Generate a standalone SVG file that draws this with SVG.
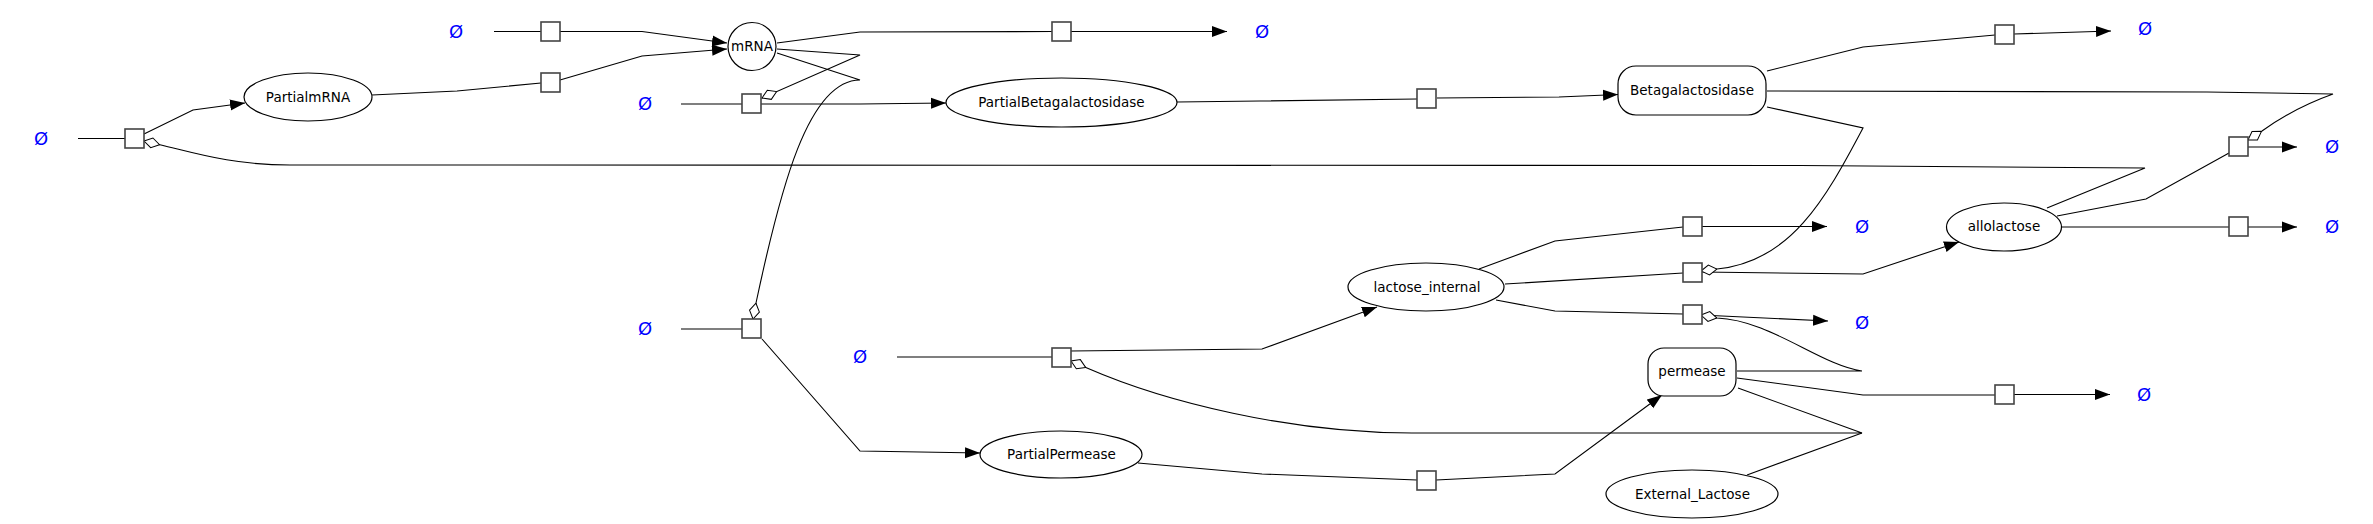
<svg xmlns="http://www.w3.org/2000/svg" width="2373" height="524" viewBox="0 0 2373 524">
<defs>
<marker id="arrow" markerUnits="userSpaceOnUse" markerWidth="16" markerHeight="12" refX="15" refY="6" orient="auto" viewBox="0 0 16 12"><path d="M0,0.5 L15,6 L0,11.5 Z" fill="#000"/></marker>
<marker id="diamond" markerUnits="userSpaceOnUse" markerWidth="18" markerHeight="12" refX="16.5" refY="6" orient="auto" viewBox="0 0 18 12"><path d="M0.5,6 L8.5,1 L16.5,6 L8.5,11 Z" fill="#fff" stroke="#000" stroke-width="1"/></marker>
</defs>
<style>
.e{fill:none;stroke:#000;stroke-width:1.1}
.a{marker-end:url(#arrow)}
.m{marker-end:url(#diamond)}
.sp{fill:#fff;stroke:#000;stroke-width:1.2}
.rx{fill:#fff;stroke:#444;stroke-width:1.6}
.lbl{font-family:"DejaVu Sans",sans-serif;font-size:13.5px;fill:#000;text-anchor:middle;dominant-baseline:central}
.empty{font-family:"DejaVu Sans",sans-serif;font-size:18px;fill:#0000ff;text-anchor:middle;dominant-baseline:central}
</style>
<rect width="2373" height="524" fill="#fff"/>
<g id="connectors">
<path class="e" d="M78,138.5 H125"/>
<path class="e a" d="M144,134 L193,110 L245,103"/>
<path class="e m" d="M2047,208 L2145,168 L1800,165.5 L290,165 C232,165 195,153 161,145 L144,141"/>
<path class="e" d="M494,31.5 H541"/>
<path class="e a" d="M560,31.5 L642,31.5 L727,43"/>
<path class="e" d="M372,95 L457,91 L541,83"/>
<path class="e a" d="M560,80 L642,56 L727,49"/>
<path class="e" d="M777,43 L860,32 L1052,31.5"/>
<path class="e a" d="M1071,31.5 L1227,31.5"/>
<path class="e m" d="M777,49 L860,55 L762,98"/>
<path class="e" d="M681,104 H742"/>
<path class="e a" d="M761,104 L860,104 L946,103"/>
<path class="e m" d="M777,53 L860,80 C808,80 780,190 756,303 L753,319"/>
<path class="e" d="M1177,102 L1260,101 L1417,99"/>
<path class="e a" d="M1437,98 L1559,97 L1618,94.5"/>
<path class="e" d="M1767,71 L1863,47 L1995,35"/>
<path class="e a" d="M2014,34 L2111,31"/>
<path class="e m" d="M1767,91 L2207,92 L2333,94 C2305,104 2280,118 2262,131 L2248,140"/>
<path class="e" d="M2057,216 L2146,199 L2229,153"/>
<path class="e a" d="M2248,147 L2297,147"/>
<path class="e" d="M2062,227 L2229,227"/>
<path class="e a" d="M2248,227 L2297,227"/>
<path class="e" d="M681,329 H742"/>
<path class="e a" d="M762,339 L860,451 L980,453"/>
<path class="e" d="M897,357 H1052"/>
<path class="e a" d="M1070,351 L1262,349 L1377,307"/>
<path class="e m" d="M1738,388 L1862,433 L1412,433 C1290,433 1165,402 1087,368 L1071,361"/>
<path class="e" d="M1747,475 L1862,433"/>
<path class="e" d="M1138,463 L1262,474 L1417,480"/>
<path class="e a" d="M1436,480 L1555,474 L1662,395"/>
<path class="e" d="M1479,269 L1555,241 L1683,227"/>
<path class="e a" d="M1701,226.5 L1827,226.5"/>
<path class="e" d="M1505,284 L1683,273"/>
<path class="e a" d="M1701,272 L1863,274 L1959,242"/>
<path class="e m" d="M1767,107 L1863,128 C1825,200 1790,262 1717,269 L1701,271"/>
<path class="e" d="M1496,300 L1555,311 L1683,314"/>
<path class="e a" d="M1701,315 L1828,321"/>
<path class="e m" d="M1737,371 L1862,371 C1820,365 1770,320 1717,318 L1701,315"/>
<path class="e" d="M1737,378 L1863,395 L1995,395"/>
<path class="e a" d="M2014,394.5 L2110,394.5"/>
</g>
<g id="reactions">
<g id="r1"><rect class="rx" x="125" y="129" width="19" height="19"/></g>
<g id="r2"><rect class="rx" x="541" y="22" width="19" height="19"/></g>
<g id="r3"><rect class="rx" x="541" y="73" width="19" height="19"/></g>
<g id="r4"><rect class="rx" x="1052" y="22" width="19" height="19"/></g>
<g id="r5"><rect class="rx" x="742" y="94" width="19" height="19"/></g>
<g id="r6"><rect class="rx" x="1417" y="89" width="19" height="19"/></g>
<g id="r7"><rect class="rx" x="1995" y="25" width="19" height="19"/></g>
<g id="r8"><rect class="rx" x="2229" y="137" width="19" height="19"/></g>
<g id="r9"><rect class="rx" x="2229" y="217" width="19" height="19"/></g>
<g id="r10"><rect class="rx" x="742" y="319" width="19" height="19"/></g>
<g id="r11"><rect class="rx" x="1052" y="348" width="19" height="19"/></g>
<g id="r12"><rect class="rx" x="1683" y="217" width="19" height="19"/></g>
<g id="r13"><rect class="rx" x="1683" y="263" width="19" height="19"/></g>
<g id="r14"><rect class="rx" x="1683" y="305" width="19" height="19"/></g>
<g id="r15"><rect class="rx" x="1417" y="471" width="19" height="19"/></g>
<g id="r16"><rect class="rx" x="1995" y="385" width="19" height="19"/></g>
</g>
<g id="PartialmRNA"><ellipse class="sp" cx="308" cy="97" rx="64" ry="24"/><text class="lbl" x="308" y="97">PartialmRNA</text></g>
<g id="mRNA"><circle class="sp" cx="752" cy="46.5" r="24"/><text class="lbl" x="752" y="46">mRNA</text></g>
<g id="PartialBetagalactosidase"><ellipse class="sp" cx="1061.5" cy="102.5" rx="115.5" ry="24.5"/><text class="lbl" x="1061.5" y="102">PartialBetagalactosidase</text></g>
<g id="Betagalactosidase"><rect class="sp" x="1618" y="66" width="148" height="49" rx="18"/><text class="lbl" x="1692" y="90">Betagalactosidase</text></g>
<g id="lactose_internal"><ellipse class="sp" cx="1426" cy="287" rx="78" ry="24"/><text class="lbl" x="1427" y="287">lactose_internal</text></g>
<g id="allolactose"><ellipse class="sp" cx="2004" cy="227" rx="57.5" ry="24"/><text class="lbl" x="2004" y="226">allolactose</text></g>
<g id="permease"><rect class="sp" x="1648" y="348" width="88" height="48" rx="16"/><text class="lbl" x="1692" y="371">permease</text></g>
<g id="PartialPermease"><ellipse class="sp" cx="1061" cy="454.5" rx="81" ry="23.5"/><text class="lbl" x="1061.5" y="454">PartialPermease</text></g>
<g id="External_Lactose"><ellipse class="sp" cx="1692" cy="494" rx="86" ry="24"/><text class="lbl" x="1692.5" y="494">External_Lactose</text></g>
<g id="empties">
<g id="e1"><text class="empty" x="41" y="138">Ø</text></g>
<g id="e2"><text class="empty" x="456" y="31">Ø</text></g>
<g id="e3"><text class="empty" x="1262" y="31">Ø</text></g>
<g id="e4"><text class="empty" x="645" y="103">Ø</text></g>
<g id="e5"><text class="empty" x="2145" y="28">Ø</text></g>
<g id="e6"><text class="empty" x="2332" y="146">Ø</text></g>
<g id="e7"><text class="empty" x="2332" y="226">Ø</text></g>
<g id="e8"><text class="empty" x="645" y="328">Ø</text></g>
<g id="e9"><text class="empty" x="860" y="356">Ø</text></g>
<g id="e10"><text class="empty" x="1862" y="226">Ø</text></g>
<g id="e11"><text class="empty" x="1862" y="322">Ø</text></g>
<g id="e12"><text class="empty" x="2144" y="394">Ø</text></g>
</g>
</svg>
